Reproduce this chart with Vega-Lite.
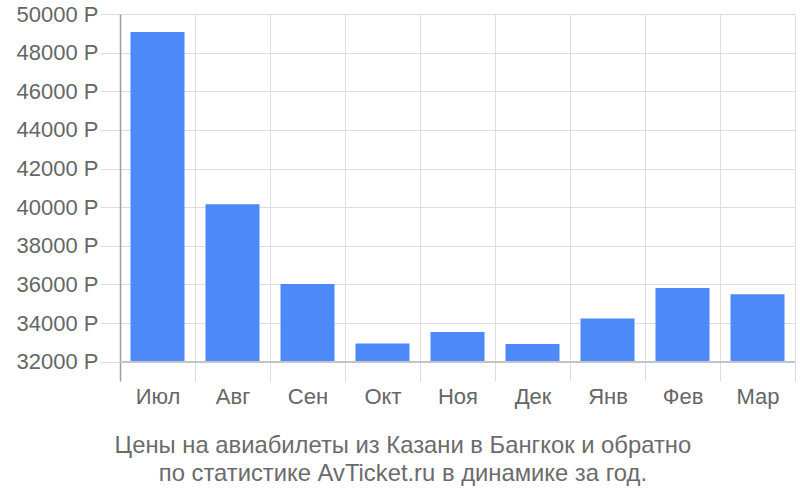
{
  "$schema": "https://vega.github.io/schema/vega-lite/v6.json",
  "width": 675,
  "height": 367,
  "autosize": {"type": "none"},
  "padding": {"left": 120, "top": 14, "right": 5, "bottom": 119},
  "background": "white",
  "config": {
    "view": {"stroke": null},
    "font": "Liberation Sans"
  },
  "title": {
    "text": ["Цены на авиабилеты из Казани в Бангкок и обратно", "по статистике AvTicket.ru в динамике за год."],
    "orient": "bottom",
    "anchor": "middle",
    "frame": "bounds",
    "fontSize": 23.8,
    "fontWeight": "normal",
    "color": "#6b6b6b",
    "lineHeight": 28,
    "offset": 27,
    "dx": -3
  },
  "data": {
    "values": [
      {"month": "Июл", "price": 49070},
      {"month": "Авг", "price": 40155},
      {"month": "Сен", "price": 36025},
      {"month": "Окт", "price": 32935},
      {"month": "Ноя", "price": 33540},
      {"month": "Дек", "price": 32915},
      {"month": "Янв", "price": 34230},
      {"month": "Фев", "price": 35820},
      {"month": "Мар", "price": 35490}
    ]
  },
  "layer": [
    {
      "mark": {"type": "bar", "color": "#4d89f9", "width": {"band": 0.72}},
      "encoding": {
        "x": {
          "field": "month",
          "type": "nominal",
          "sort": null,
          "scale": {"paddingInner": 0, "paddingOuter": 0},
          "axis": {
            "title": null,
            "labelAngle": 0,
            "tickBand": "extent",
            "grid": true,
            "gridColor": "#dedede",
            "ticks": false,
            "domain": false,
            "labelFontSize": 22,
            "labelColor": "#666666",
            "labelPadding": 5
          }
        },
        "y": {
          "field": "price",
          "type": "quantitative",
          "scale": {"domain": [31000, 50000], "nice": false, "zero": false},
          "axis": {
            "title": null,
            "values": [32000, 34000, 36000, 38000, 40000, 42000, 44000, 46000, 48000, 50000],
            "labelExpr": "datum.value + ' Р'",
            "grid": true,
            "gridColor": "#dedede",
            "tickColor": "#dedede",
            "tickSize": 20,
            "labelPadding": 2,
            "labelFontSize": 22,
            "labelColor": "#666666",
            "domainColor": "#9e9e9e",
            "domainWidth": 1.5
          }
        },
        "y2": {"datum": 32000}
      }
    },
    {
      "mark": {"type": "rule", "color": "#c4c4c4", "strokeWidth": 1.5},
      "encoding": {
        "y": {"datum": 32000}
      }
    }
  ]
}
